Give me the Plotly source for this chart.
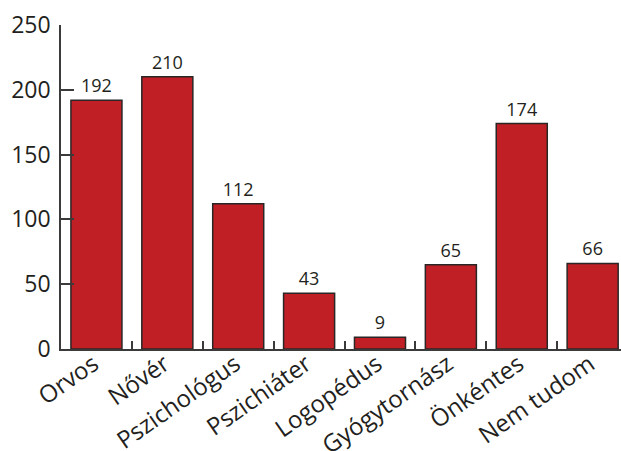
import plotly.graph_objects as go

categories = ["Orvos", "Nővér", "Pszichológus", "Pszichiáter", "Logopédus",
              "Gyógytornász", "Önkéntes", "Nem tudom"]
values = [192, 210, 112, 43, 9, 65, 174, 66]
y_ticks = [0, 50, 100, 150, 200, 250]

FONT = "Open Sans"
INK = "#231f20"

fig = go.Figure(
    go.Bar(
        x=categories,
        y=values,
        text=[str(v) for v in values],
        textposition="outside",
        textfont=dict(family=FONT, size=18, color=INK),
        cliponaxis=False,
        marker=dict(color="#c01f26", line=dict(color="#2b2626", width=1.5)),
        width=0.72,
    )
)

fig.update_layout(
    width=621,
    height=451,
    margin=dict(l=61, r=0, t=25, b=102),
    paper_bgcolor="white",
    plot_bgcolor="white",
    showlegend=False,
    font=dict(family=FONT, color=INK),
    xaxis=dict(
        range=[-0.5, 7.4],
        automargin=False,
        tickson="boundaries",
        ticks="inside",
        ticklen=8,
        tickwidth=1.5,
        tickcolor="#3a3a3a",
        showline=True,
        linecolor="#3a3a3a",
        linewidth=1.5,
        tickangle=-35,
        ticklabelstandoff=-10,
        ticklabelshift=-3,
        tickfont=dict(family=FONT, size=24, color=INK),
        showgrid=False,
        zeroline=False,
    ),
    yaxis=dict(
        range=[0, 250],
        automargin=False,
        tickvals=y_ticks,
        ticks="inside",
        ticklen=13,
        tickwidth=1.5,
        tickcolor="#3a3a3a",
        showline=True,
        linecolor="#3a3a3a",
        linewidth=1.5,
        tickfont=dict(family=FONT, size=23, color=INK),
        ticklabelstandoff=4,
        showgrid=False,
        zeroline=False,
    ),
)

fig.write_html("out.html")
